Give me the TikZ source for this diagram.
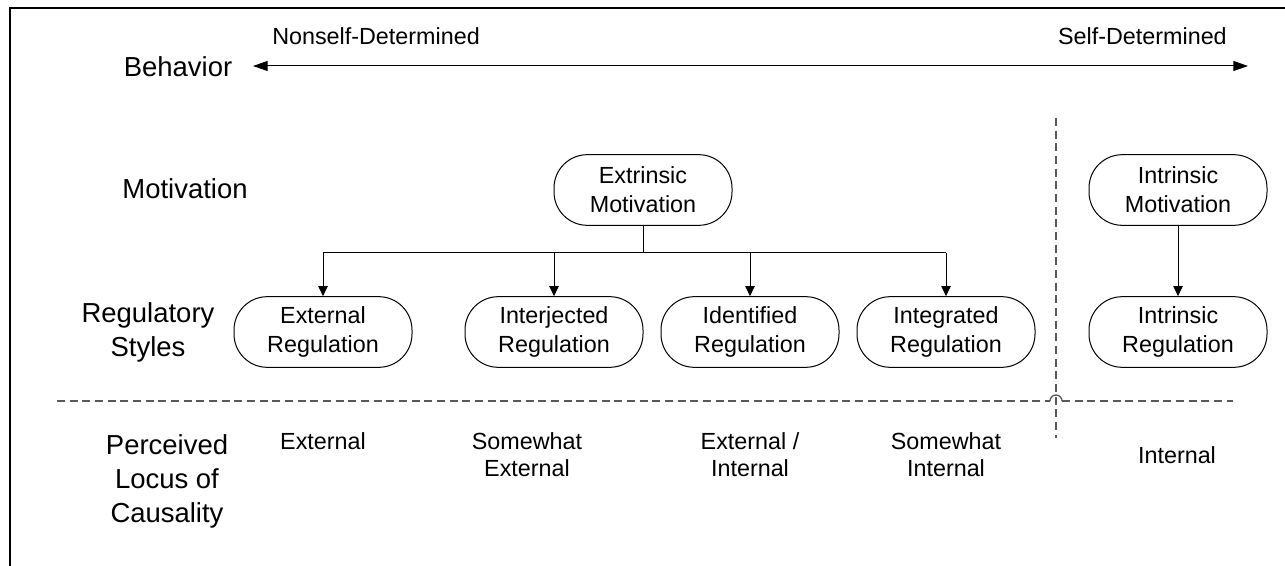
\documentclass[tikz,border=0pt]{standalone}
\usepackage{fontspec}
\setmainfont{Liberation Sans}
\usetikzlibrary{arrows.meta}
\begin{document}
\begin{tikzpicture}[x=0.75pt,y=-0.75pt,
  box/.style={draw,line width=0.75pt,rounded corners=25pt,minimum width=133.5pt,minimum height=53pt,align=center,inner sep=0pt,font=\fontsize{17.5}{21.75}\selectfont},
  lbl/.style={align=center,inner sep=0pt,font=\fontsize{17.5}{20.25}\selectfont},
  rowlbl/.style={align=center,inner sep=0pt,font=\fontsize{20.6}{25.5}\selectfont},
  conn/.style={line width=0.75pt},
  arr/.style={conn,-{Triangle[length=7.5pt,width=7pt]}},
  bigarr/.style={conn,{Triangle[length=11pt,width=7.5pt]}-{Triangle[length=11pt,width=7.5pt]}},
  sep/.style={line width=1pt,draw=black!65,dash pattern=on 6pt off 3.5pt},
  hop/.style={line width=1pt,draw=black!65}
]
\useasboundingbox (0,0) rectangle (1285,566);
\draw[line width=1.8pt] (10,566) -- (10,8) -- (1285,8);

% top axis
\node[lbl,anchor=base west] (nsd) at (272,45) {Nonself-Determined};
\node[lbl,anchor=base east] (sd) at (1227,45) {Self-Determined};
\node[rowlbl,anchor=base] (beh) at (178,77) {Behavior};
\coordinate (bl) at (253,66);
\coordinate (br) at (1248,66);
\draw[bigarr] (bl) -- (br);

% row labels
\node[rowlbl] (mot) at (185,189) {Motivation};
\node[rowlbl] (reg) at (148,332) {Regulatory\\Styles};
\node[rowlbl] (plc) at (167,481) {Perceived\\Locus of\\Causality};

% nodes
\node[box] (em) at (643,190) {Extrinsic\\Motivation};
\node[box] (im) at (1178,190) {Intrinsic\\Motivation};
\node[box] (er) at (323,332) {External\\Regulation};
\node[box] (ijr) at (554,332) {Interjected\\Regulation};
\node[box] (idr) at (750,332) {Identified\\Regulation};
\node[box] (igr) at (946,332) {Integrated\\Regulation};
\node[box] (ir) at (1178,332) {Intrinsic\\Regulation};

% connectors
\coordinate (bus) at (643,253);
\draw[conn] (em.south) -- (bus);
\draw[conn] (er.north |- bus) -- (igr.north |- bus);
\draw[arr] (er.north |- bus) -- (er.north);
\draw[arr] (ijr.north |- bus) -- (ijr.north);
\draw[arr] (idr.north |- bus) -- (idr.north);
\draw[arr] (igr.north |- bus) -- (igr.north);
\draw[arr] (im.south) -- (ir.north);

% separators
\coordinate (vt) at (1056,118);
\coordinate (vb) at (1056,438);
\coordinate (hl) at (57,401);
\coordinate (hr) at (1233,401);
\coordinate (hopl) at (1050,401);
\coordinate (hopr) at (1062,401);
\draw[sep] (vt) -- (vb);
\draw[sep] (hl) -- (hopl);
\draw[hop] (hopl) arc (180:360:6);
\draw[sep] (hopr) -- (hr);

% locus labels
\node[lbl] (l1) at (323,441) {External};
\node[lbl] (l2) at (527,455) {Somewhat\\External};
\node[lbl] (l3) at (750,455) {External /\\Internal};
\node[lbl] (l4) at (946,455) {Somewhat\\Internal};
\node[lbl] (l5) at (1177,455) {Internal};
\end{tikzpicture}
\end{document}
